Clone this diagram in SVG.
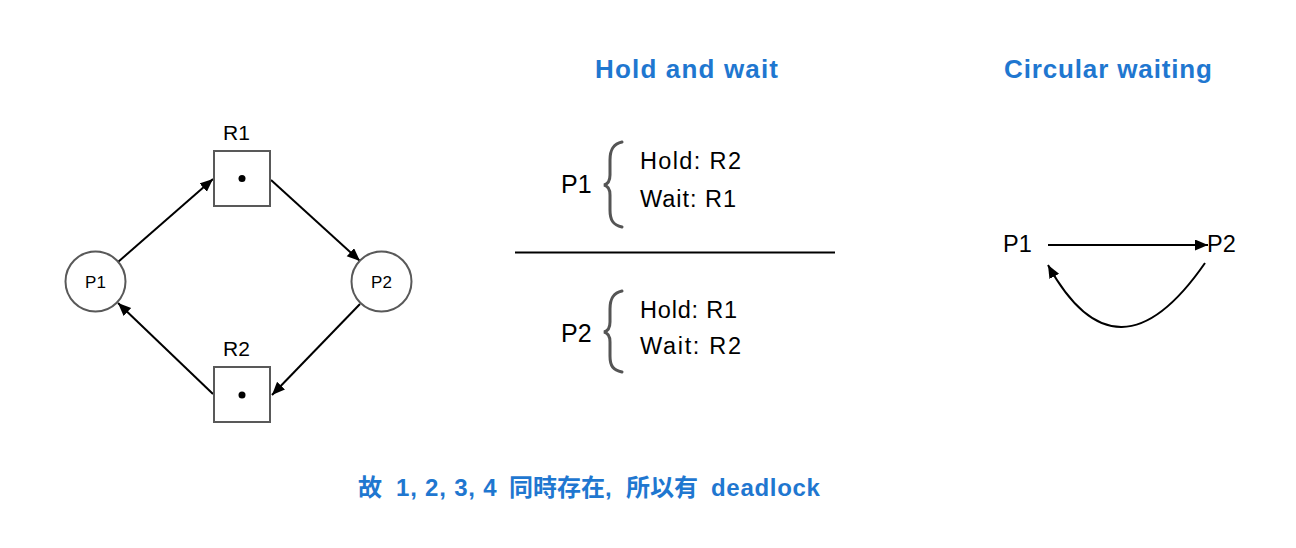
<svg xmlns="http://www.w3.org/2000/svg" width="1296" height="548" viewBox="0 0 1296 548">
<style>
  .bg { fill: #ffffff; }
  .box { fill: #ffffff; stroke: #595959; stroke-width: 2; }
  .proc { fill: #ffffff; stroke: #595959; stroke-width: 2; }
  .dot { fill: #000000; }
  .lbl { font-family: "Liberation Sans", Arial, sans-serif; fill: #000000; }
  .title { font-family: "Liberation Sans", Arial, sans-serif; font-weight: bold; fill: #1f77d0; font-size: 26px; }
  .note { font-family: "Liberation Sans", "Noto Sans CJK TC", sans-serif; font-weight: bold; fill: #1f77d0; font-size: 24px; }
  .edge { fill: none; stroke: #000000; stroke-width: 2; }
  .brace { fill: none; stroke: #555555; stroke-width: 3; stroke-linecap: round; }
</style>
<defs>
  <marker id="arrow" markerUnits="userSpaceOnUse" markerWidth="15" markerHeight="13" refX="13" refY="5.5" orient="auto">
    <path d="M0,0 L13,5.5 L0,11 z" fill="#000000"/>
  </marker>
</defs>
<rect class="bg" x="0" y="0" width="1296" height="548"/>

<g id="connectors">
  <line class="edge" x1="118" y1="262" x2="213" y2="179" marker-end="url(#arrow)"/>
  <line class="edge" x1="271" y1="180" x2="360" y2="261" marker-end="url(#arrow)"/>
  <line class="edge" x1="360" y1="304" x2="272" y2="395" marker-end="url(#arrow)"/>
  <line class="edge" x1="213" y1="394" x2="118" y2="303" marker-end="url(#arrow)"/>
  <line class="edge" x1="1048" y1="245" x2="1208" y2="245" marker-end="url(#arrow)"/>
  <path class="edge" d="M1205,263 Q1117,390 1048,265" marker-end="url(#arrow)"/>
</g>

<g id="R1">
  <rect class="box" x="214" y="151" width="56" height="55"/>
  <circle class="dot" cx="242" cy="178.5" r="3.5"/>
  <text class="lbl" x="223" y="139.5" font-size="21">R1</text>
</g>
<g id="R2">
  <rect class="box" x="214" y="367" width="56" height="55"/>
  <circle class="dot" cx="242" cy="395" r="3.5"/>
  <text class="lbl" x="223" y="356" font-size="21">R2</text>
</g>
<g id="P1">
  <circle class="proc" cx="95.5" cy="281.5" r="30"/>
  <text class="lbl" x="95.5" y="288" font-size="17" text-anchor="middle">P1</text>
</g>
<g id="P2">
  <circle class="proc" cx="381.5" cy="281.5" r="30"/>
  <text class="lbl" x="381.5" y="288" font-size="17" text-anchor="middle">P2</text>
</g>

<g id="hold-and-wait">
  <text class="title" x="595" y="77.5" textLength="183" lengthAdjust="spacing">Hold and wait</text>
  <text class="lbl" x="561" y="193" font-size="25">P1</text>
  <path class="brace" d="M622,142 C613,144 610,150 610,160 L610,175 C610,181 608,184 604,185 C608,186 610,189 610,195 L610,210 C610,220 613,225 622,227"/>
  <text class="lbl" x="640" y="168.5" font-size="23.5" textLength="101" lengthAdjust="spacing">Hold: R2</text>
  <text class="lbl" x="640" y="206.5" font-size="23.5" textLength="96" lengthAdjust="spacing">Wait: R1</text>
  <line x1="515" y1="252.5" x2="835" y2="252.5" stroke="#000000" stroke-width="2"/>
  <text class="lbl" x="561" y="341.5" font-size="25">P2</text>
  <path class="brace" d="M622,291 C613,293 610,299 610,309 L610,322 C610,328 608,331 604,332 C608,333 610,336 610,342 L610,356 C610,366 613,370 622,372"/>
  <text class="lbl" x="640" y="317.5" font-size="23.5" textLength="97" lengthAdjust="spacing">Hold: R1</text>
  <text class="lbl" x="640" y="354" font-size="23.5" textLength="101" lengthAdjust="spacing">Wait: R2</text>
</g>

<g id="circular-waiting">
  <text class="title" x="1004" y="77.5" textLength="208" lengthAdjust="spacing">Circular waiting</text>
  <text class="lbl" x="1003" y="252" font-size="23.5">P1</text>
  <text class="lbl" x="1207" y="252" font-size="23.5">P2</text>
</g>

<text class="note" y="495.5"><tspan x="358">故 </tspan><tspan x="396" letter-spacing="0.8">1, 2, 3, 4 </tspan><tspan x="509">同時存在, </tspan><tspan x="626">所以有 </tspan><tspan x="711" letter-spacing="0.7">deadlock</tspan></text>
</svg>
